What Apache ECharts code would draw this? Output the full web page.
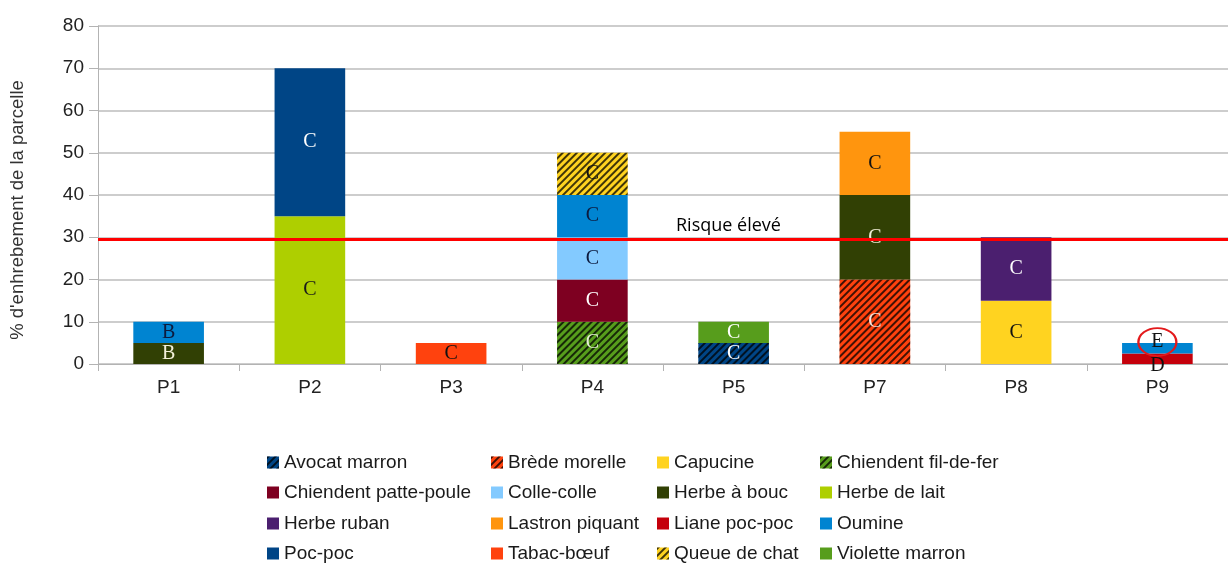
<!DOCTYPE html>
<html><head><meta charset="utf-8">
<script src="https://cdn.jsdelivr.net/npm/echarts@6/dist/echarts.min.js"></script>
<style>html,body{margin:0;padding:0;background:#fff}#c{width:1228px;height:565px}</style>
</head><body><div id="c"></div>
<script>
const categories = ['P1','P2','P3','P4','P5','P7','P8','P9'];
const yMin = 0, yMax = 80, yStep = 10;
const riskLevel = 29.6;
const riskText = 'Risque élevé';
const yAxisTitle = "% d'enhrebement de la parcelle";

const avocatMarron        = [null,null,null,null,5,null,null,null];
const bredeMorelle        = [null,null,null,null,null,20,null,null];
const capucine            = [null,null,null,null,null,null,15,null];
const chiendentFilDeFer   = [null,null,null,10,null,null,null,null];
const chiendentPattePoule = [null,null,null,10,null,null,null,null];
const colleColle          = [null,null,null,10,null,null,null,null];
const herbeABouc          = [5,null,null,null,null,20,null,null];
const herbeDeLait         = [null,35,null,null,null,null,null,null];
const herbeRuban          = [null,null,null,null,null,null,15,null];
const lastronPiquant      = [null,null,null,null,null,15,null,null];
const lianePocPoc         = [null,null,null,null,null,null,null,2.5];
const oumine              = [5,null,null,10,null,null,null,2.5];
const pocPoc              = [null,35,null,null,null,null,null,null];
const tabacBoeuf          = [null,null,5,null,null,null,null,null];
const queueDeChat         = [null,null,null,10,null,null,null,null];
const violetteMarron      = [null,null,null,null,5,null,null,null];

const parcelGrades = ['B','C','C','C','C','C','C',''];
const p9Grades = { 'Liane poc-poc': 'D', 'Oumine': 'E' };

const speciesList = [
  ['Avocat marron', avocatMarron, '#004586', true, '#ffffff'],
  ['Brède morelle', bredeMorelle, '#ff420e', true, '#f4e8e0'],
  ['Capucine', capucine, '#ffd320', false, '#111111'],
  ['Chiendent fil-de-fer', chiendentFilDeFer, '#579d1c', true, '#e6f0d6'],
  ['Chiendent patte-poule', chiendentPattePoule, '#7e0021', false, '#ffffff'],
  ['Colle-colle', colleColle, '#83caff', false, '#0d1b3e'],
  ['Herbe à bouc', herbeABouc, '#314004', false, '#f2efd8'],
  ['Herbe de lait', herbeDeLait, '#aecf00', false, '#1a1a1a'],
  ['Herbe ruban', herbeRuban, '#4b1f6f', false, '#ffffff'],
  ['Lastron piquant', lastronPiquant, '#ff950e', false, '#111111'],
  ['Liane poc-poc', lianePocPoc, '#c5000b', false, '#111111'],
  ['Oumine', oumine, '#0084d1', false, '#0d1b3e'],
  ['Poc-poc', pocPoc, '#004586', false, '#ffffff'],
  ['Tabac-bœuf', tabacBoeuf, '#ff420e', false, '#111111'],
  ['Queue de chat', queueDeChat, '#ffd320', true, '#111111'],
  ['Violette marron', violetteMarron, '#579d1c', false, '#ffffff']
];

const legendColumns = [
  ['Avocat marron','Chiendent patte-poule','Herbe ruban','Poc-poc'],
  ['Brède morelle','Colle-colle','Lastron piquant','Tabac-bœuf'],
  ['Capucine','Herbe à bouc','Liane poc-poc','Queue de chat'],
  ['Chiendent fil-de-fer','Herbe de lait','Oumine','Violette marron']
];
const legendLefts = [267, 491, 657, 820];
const legendTops = [453, 483, 514, 544];

const hatch = {
  symbol: 'rect', symbolSize: 1,
  dashArrayX: [1, 0], dashArrayY: [1.4, 2.6],
  rotation: -Math.PI / 4,
  color: 'rgba(0,0,0,0.75)'
};

const series = speciesList.map(([name, vals, color, hatched, lblColor], si) => {
  const data = vals.map((v, i) => {
    if (v == null) return null;
    let grade = parcelGrades[i];
    const item = { value: v };
    if (categories[i] === 'P9') {
      grade = p9Grades[name] || '';
      item.label = { color: '#111111', offset: [0, name === 'Oumine' ? -6 : 7] };
    }
    item.grade = grade;
    return item;
  });
  const s = {
    name, type: 'bar', stack: 'total', barWidth: '50%',
    itemStyle: { color },
    label: {
      show: true, position: 'inside', color: lblColor,
      fontFamily: 'Liberation Serif', fontSize: 20,
      formatter: p => (p.data && p.data.grade) || ''
    },
    emphasis: { disabled: true },
    data
  };
  if (hatched) s.itemStyle.decal = hatch;
  if (name === 'Oumine') {
    s.markPoint = {
      silent: true,
      symbol: 'circle', symbolSize: [38, 28],
      itemStyle: { color: 'rgba(0,0,0,0)', borderColor: '#e31a1c', borderWidth: 2 },
      label: { show: false },
      data: [{ coord: ['P9', 5.2] }]
    };
  }
  if (si === speciesList.length - 1) {
    s.markLine = {
      silent: true, symbol: 'none', z: 20,
      lineStyle: { color: '#ff0000', width: 3, type: 'solid' },
      label: { show: false },
      data: [{ yAxis: riskLevel }]
    };
  }
  return s;
});

const legends = [];
legendColumns.forEach((col, k) => {
  col.forEach((nm, r) => {
    legends.push({
      orient: 'horizontal', left: legendLefts[k], top: legendTops[r], padding: 0,
      itemWidth: 12, itemHeight: 12, itemGap: 0,
      icon: 'rect', selectedMode: false,
      textStyle: { fontFamily: 'Liberation Sans', fontSize: 19, color: '#1a1a1a' },
      data: [nm]
    });
  });
});

const chart = echarts.init(document.getElementById('c'), null, { renderer: 'canvas' });
chart.setOption({
  animation: false,
  backgroundColor: '#ffffff',
  aria: { enabled: false },
  grid: { left: 97, top: 26, width: 1140, height: 338, containLabel: false },
  legend: legends,
  graphic: [{
    type: 'text', left: 676, top: 217,
    style: { text: riskText, font: '18px "Open Sans"', fill: '#000000' }
  }],
  xAxis: {
    type: 'category', data: categories,
    axisLine: { lineStyle: { color: '#b3b3b3', width: 1 } },
    axisTick: { show: true, length: 7, lineStyle: { color: '#b3b3b3' } },
    axisLabel: { fontFamily: 'Liberation Sans', fontSize: 19, color: '#222222', margin: 14 }
  },
  yAxis: {
    type: 'value', min: yMin, max: yMax, interval: yStep,
    name: yAxisTitle, nameLocation: 'middle', nameGap: 71, nameRotate: 90,
    nameTextStyle: { fontFamily: 'Liberation Sans', fontSize: 18.5, color: '#333333', padding: [0, 30, 0, 0] },
    axisLine: { show: true, lineStyle: { color: '#b3b3b3', width: 1 } },
    axisTick: { show: true, length: 9, lineStyle: { color: '#b3b3b3' } },
    axisLabel: { fontFamily: 'Liberation Sans', fontSize: 19, color: '#222222', margin: 14 },
    splitLine: { lineStyle: { color: '#bdbdbd', width: 1.5 } }
  },
  series
});
</script></body></html>
